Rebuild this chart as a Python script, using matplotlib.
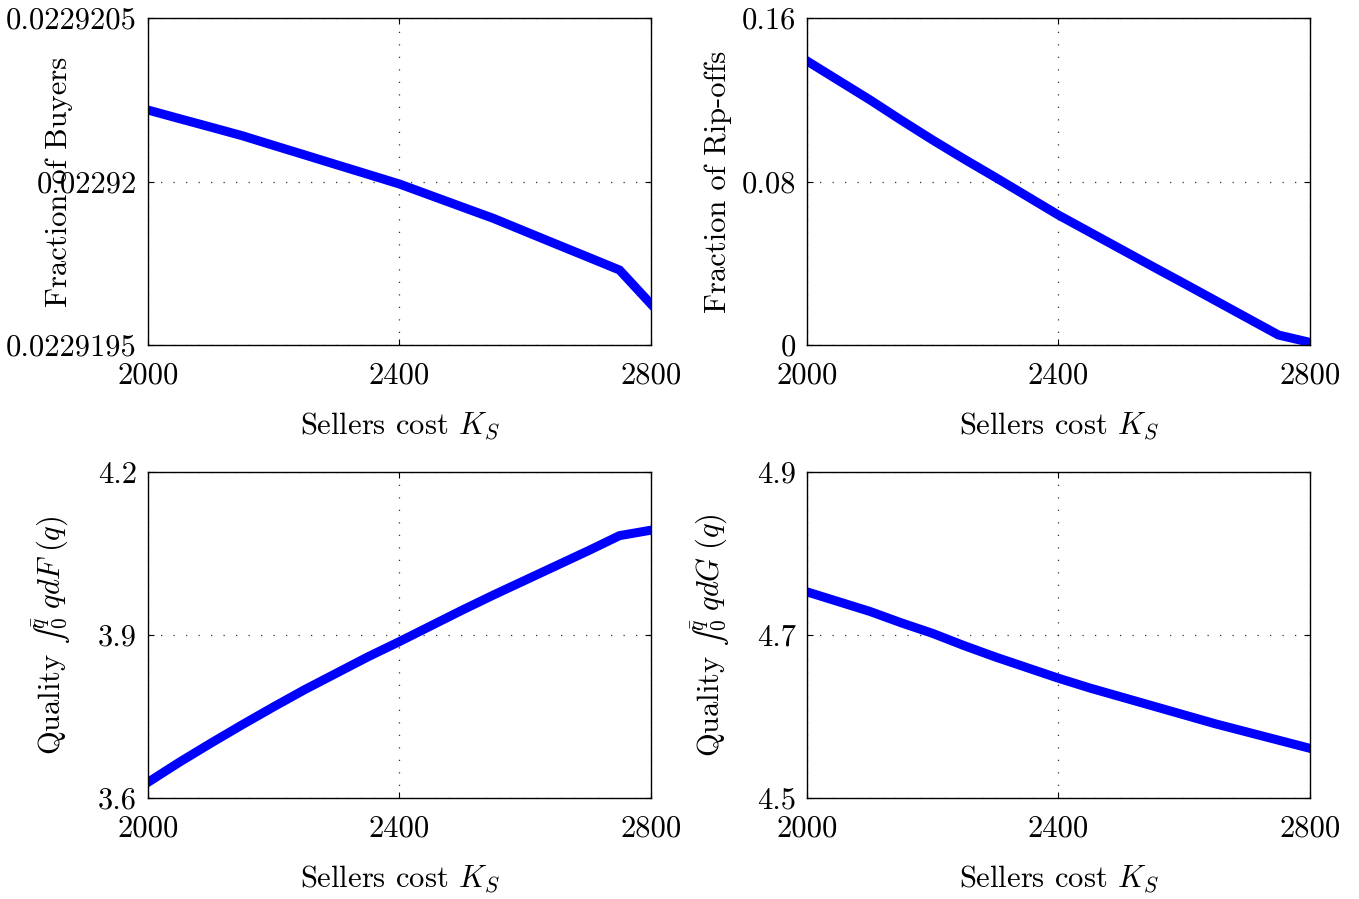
import matplotlib
matplotlib.use('Agg')
import matplotlib.pyplot as plt
import matplotlib as mpl

# sellers cost grid
ks = [2000, 2050, 2100, 2150, 2200, 2250, 2300, 2350, 2400,
      2450, 2500, 2550, 2600, 2650, 2700, 2750, 2800]

# fraction of buyers, stored as 0.0229195 + f*1e-6
buyers_f = [0.7187, 0.6924, 0.6664, 0.6401, 0.6104, 0.5810, 0.5514, 0.5220, 0.4924,
            0.4572, 0.4220, 0.3869, 0.3474, 0.3080, 0.2688, 0.2294, 0.1254]
buyers = [0.0229195 + f * 1e-6 for f in buyers_f]

ripoffs = [0.139, 0.1295, 0.120, 0.110, 0.1003, 0.091, 0.082, 0.0728, 0.0636,
           0.0552, 0.0468, 0.0384, 0.0301, 0.0217, 0.0133, 0.0049, 0.0013]

quality_f = [3.629, 3.666, 3.701, 3.735, 3.768, 3.800, 3.830, 3.860, 3.888,
             3.917, 3.946, 3.974, 4.001, 4.028, 4.055, 4.083, 4.093]

quality_g = [4.753, 4.741, 4.729, 4.715, 4.702, 4.687, 4.673, 4.660, 4.647,
             4.635, 4.624, 4.613, 4.602, 4.591, 4.581, 4.571, 4.561]

xticks = [2000, 2400, 2800]
xticklabels = ['2000', '2400', '2800']

panels = [
    {'y': buyers, 'ylabel': 'Fraction of Buyers',
     'yticks': [0.0229195, 0.02292, 0.0229205],
     'yticklabels': ['0.0229195', '0.02292', '0.0229205']},
    {'y': ripoffs, 'ylabel': 'Fraction of Rip-offs',
     'yticks': [0, 0.08, 0.16],
     'yticklabels': ['0', '0.08', '0.16']},
    {'y': quality_f, 'ylabel': 'Quality $\u222b_0^{\\bar{q}}\\; q dF\\;(q)$',
     'yticks': [3.6, 3.9, 4.2],
     'yticklabels': ['3.6', '3.9', '4.2']},
    {'y': quality_g, 'ylabel': 'Quality $\u222b_0^{\\bar{q}}\\; q dG\\;(q)$',
     'yticks': [4.5, 4.7, 4.9],
     'yticklabels': ['4.5', '4.7', '4.9']},
]

positions = [
    [0.1089, 0.6162, 0.3701, 0.3637],
    [0.5938, 0.6162, 0.3701, 0.3637],
    [0.1089, 0.1123, 0.3701, 0.3626],
    [0.5938, 0.1123, 0.3701, 0.3626],
]


def init():
    mpl.rc('font', family='serif', size=22)
    mpl.rcParams['font.serif'] = ['cmr10', 'DejaVu Serif']
    mpl.rcParams['mathtext.fontset'] = 'cm'
    mpl.rcParams['axes.formatter.use_mathtext'] = True
    mpl.rc('axes', linewidth=1.0)
    mpl.rc('xtick', direction='in', top=True)
    mpl.rc('ytick', direction='in', right=True)
    mpl.rc('xtick.major', size=4, pad=12)
    mpl.rc('ytick.major', size=4, pad=8)
    fig = plt.figure(figsize=(13.59, 8.99), dpi=100)
    return fig


def plot():
    fig = init()
    for pos, p in zip(positions, panels):
        ax = fig.add_axes(pos)
        ax.plot(ks, p['y'], color='#0000ff', linewidth=6.5,
                solid_joinstyle='miter')
        ax.set_xlim(2000, 2800)
        ax.set_ylim(p['yticks'][0], p['yticks'][-1])
        ax.set_xticks(xticks)
        ax.set_xticklabels(xticklabels)
        ax.set_yticks(p['yticks'])
        ax.set_yticklabels(p['yticklabels'])
        ax.grid(True, linestyle=(0, (1, 9)), color='#333333', linewidth=0.9)
        ax.set_xlabel(r'Sellers cost $K_S$')
        ax.set_ylabel(p['ylabel'])
        ax.xaxis.set_label_coords(0.5, -0.2)
        ax.yaxis.set_label_coords(-0.149, 0.5)
    plt.savefig('out.png', dpi=100)


if __name__ == '__main__':
    plot()
